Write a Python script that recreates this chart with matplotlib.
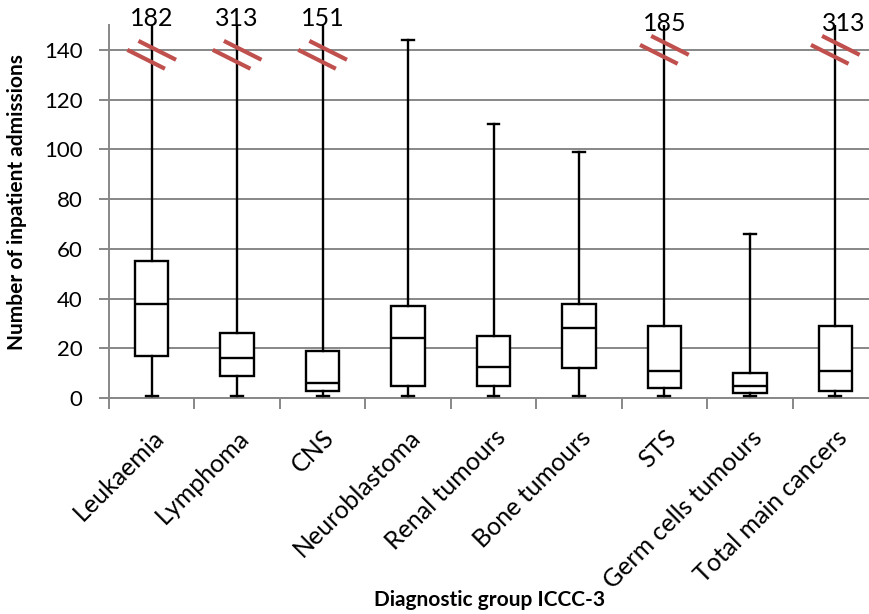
import numpy as np
import matplotlib.pyplot as plt

plt.rcParams['font.family'] = ['Lato', 'DejaVu Sans']

groups = ['Leukaemia', 'Lymphoma', 'CNS', 'Neuroblastoma', 'Renal tumours',
          'Bone tumours', 'STS', 'Germ cells tumours', 'Total main cancers']
mins = [1, 1, 1, 1, 1, 1, 1, 1, 1]
q1 = [17, 9, 3, 5, 5, 12, 4, 2, 3]
medians = [38, 16, 6, 24, 12.5, 28, 11, 5, 11]
q3 = [55, 26, 19, 37, 25, 38, 29, 10, 29]
maxs = [182, 313, 151, 144, 110, 99, 185, 66, 313]

ymax = 150
# centre of the red cut marks on whiskers that run off the top
break_at = [138, 138, 138, None, None, None, 140, None, 140]
label_y = [152.5, 152.5, 152.5, None, None, None, 150.8, None, 150.8]
label_dx = [0, 0, 0, 0, 0, 0, 0, 0, 0.1]

fig = plt.figure(figsize=(8.69, 6.14), dpi=100)
ax = fig.add_axes([0.1254, 0.3518, 0.885, 0.6075])

stats = []
for i, g in enumerate(groups):
    stats.append(dict(label=g, whislo=mins[i], q1=q1[i], med=medians[i],
                      q3=q3[i], whishi=maxs[i], fliers=[]))

pos = np.arange(len(groups))
line = dict(color='black', linewidth=1.7)
ax.bxp(stats, positions=pos, widths=0.39, patch_artist=True, showfliers=False,
       boxprops=dict(facecolor='white', edgecolor='black', linewidth=1.7),
       medianprops=line, whiskerprops=line, capprops=line, capwidths=0.14,
       zorder=3)

for i, b in enumerate(break_at):
    if b is None:
        continue
    for s in (1, -1):
        cx, cy = pos[i] + s * 0.065, b + s * 1.8
        ax.plot([cx - 0.22, cx + 0.22], [cy + 3.8, cy - 3.8],
                color='#c0504d', linewidth=3, zorder=4, clip_on=False,
                solid_capstyle='butt')
    ax.text(pos[i] + label_dx[i], label_y[i], str(maxs[i]), ha='center',
            va='center', fontsize=18, zorder=5, clip_on=False)

ax.set_xlim(-0.5, len(groups) - 0.5)
ax.set_ylim(0, ymax)
ax.set_yticks(np.arange(0, 141, 20))
ax.set_xticks(pos)
ax.set_xticklabels(groups, rotation=45, ha='right', rotation_mode='anchor',
                   fontsize=18)
ax.set_xticks(np.arange(-0.5, len(groups), 1), minor=True)
ax.tick_params(axis='x', which='major', length=0, pad=20)
ax.tick_params(axis='x', which='minor', length=8, color='#878787', width=1.4)
ax.tick_params(axis='y', length=7, color='#878787', width=1.4, labelsize=16, pad=12)
ax.yaxis.grid(True, color='#878787', linewidth=1.4, zorder=0)
ax.set_axisbelow(True)
for s in ['top', 'right']:
    ax.spines[s].set_visible(False)
for s in ['left', 'bottom']:
    ax.spines[s].set_color('#878787')
    ax.spines[s].set_linewidth(1.4)

ax.set_ylabel('Number of inpatient admissions', fontsize=15, fontweight='bold')
ax.yaxis.set_label_coords(-0.107, 0.525)
ax.set_xlabel('Diagnostic group ICCC-3', fontsize=15, fontweight='bold')
ax.xaxis.set_label_coords(0.495, -0.515)

fig.savefig('out.png', dpi=100)
